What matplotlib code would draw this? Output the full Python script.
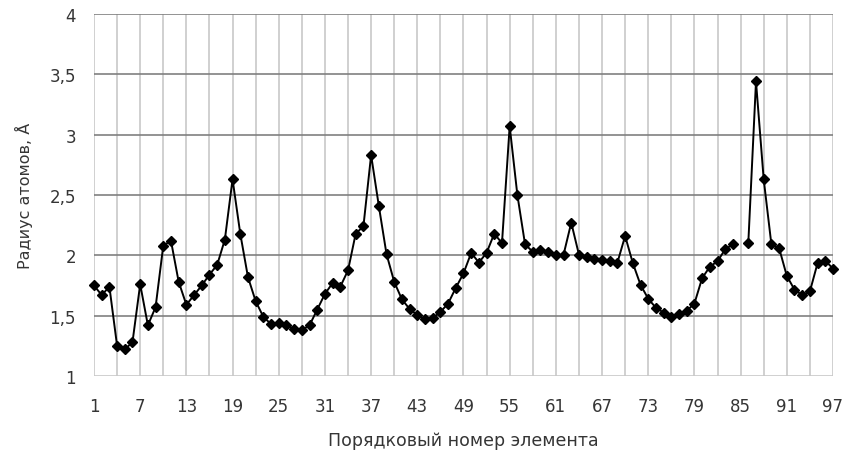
import numpy as np
import matplotlib.pyplot as plt

plt.rcParams['font.family'] = ['DejaVu Sans']

# atomic number 1..97, radius in angstrom (85 has no value)
numbers = list(range(1, 98))
radius = [
    1.75, 1.67, 1.74, 1.25, 1.22, 1.28, 1.76, 1.42, 1.57, 2.08,
    2.12, 1.78, 1.59, 1.67, 1.75, 1.84, 1.92, 2.13, 2.63, 2.18,
    1.82, 1.62, 1.49, 1.43, 1.435, 1.42, 1.39, 1.38, 1.42, 1.55,
    1.68, 1.77, 1.74, 1.875, 2.18, 2.24, 2.83, 2.41, 2.01, 1.78,
    1.635, 1.555, 1.505, 1.47, 1.48, 1.53, 1.60, 1.73, 1.85, 2.02,
    1.94, 2.02, 2.18, 2.10, 3.07, 2.50, 2.09, 2.03, 2.04, 2.03,
    2.00, 2.005, 2.27, 2.005, 1.985, 1.97, 1.96, 1.955, 1.94, 2.16,
    1.935, 1.755, 1.64, 1.565, 1.525, 1.49, 1.51, 1.54, 1.60, 1.81,
    1.905, 1.95, 2.05, 2.09, np.nan, 2.10, 3.44, 2.63, 2.09, 2.06,
    1.83, 1.715, 1.67, 1.70, 1.935, 1.955, 1.89,
]
x_ticks = list(range(1, 98, 6))
y_ticks = [1, 1.5, 2, 2.5, 3, 3.5, 4]
y_labels = ["1", "1,5", "2", "2,5", "3", "3,5", "4"]

fig = plt.figure(figsize=(8.43, 4.52), dpi=100)
ax = fig.add_axes([0.1115, 0.166, 0.8766, 0.801])

# grid: light verticals every 3 elements, darker horizontals
for v in range(1, 98, 3):
    ax.axvline(v, color='#c8c8c8', lw=1.2, zorder=0)
for h in y_ticks[1:]:
    ax.axhline(h, color='#808080', lw=1.2, zorder=0)
ax.axhline(1, color='#c8c8c8', lw=1.2, zorder=0)

ax.plot(numbers, radius, color='black', lw=1.4, marker='D', markersize=5,
        markerfacecolor='black', zorder=3, clip_on=False)

ax.set_xlim(1, 97)
ax.set_ylim(1, 4)
ax.set_xticks(x_ticks)
ax.set_yticks(y_ticks)
ax.set_yticklabels(y_labels)
ax.tick_params(length=0, labelsize=12, colors='#353535')
ax.tick_params(axis='y', pad=13)
ax.tick_params(axis='x', pad=15)
for s in ax.spines.values():
    s.set_visible(False)

ax.set_ylabel("Радиус атомов, Å", fontsize=11.5, color='#353535', labelpad=12)
ax.set_xlabel("Порядковый номер элемента", fontsize=12.5, color='#353535', labelpad=12)

fig.savefig("out.png", dpi=100)
